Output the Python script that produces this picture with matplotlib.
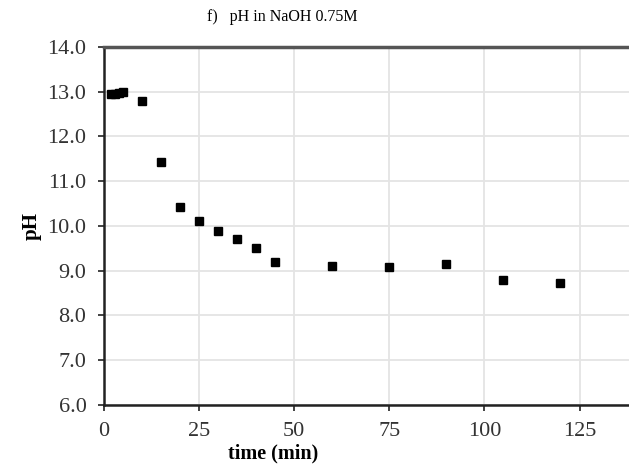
import matplotlib
matplotlib.use("Agg")
import matplotlib.pyplot as plt

time_min = [2, 3, 4, 5, 10, 15, 20, 25, 30, 35, 40, 45, 60, 75, 90, 105, 120]
ph = [12.95, 12.95, 12.96, 12.99, 12.8, 11.42, 10.42, 10.1, 9.88, 9.7, 9.5, 9.2, 9.1, 9.08, 9.15, 8.78, 8.72]
xticks = [0, 25, 50, 75, 100, 125]
yticks = [6.0, 7.0, 8.0, 9.0, 10.0, 11.0, 12.0, 13.0, 14.0]

plt.rcParams['font.family'] = ['Liberation Serif', 'DejaVu Serif']

fig = plt.figure(figsize=(6.29, 4.68), dpi=100)
ax = fig.add_axes([0.165, 0.135, 0.835, 0.765])

ax.plot(time_min, ph, linestyle='none', marker='s', color='black', markersize=6)

ax.set_xlim(0, 138)
ax.set_ylim(6.0, 14.0)
ax.set_xticks(xticks)
ax.set_yticks(yticks)
ax.set_yticklabels([f"{v:.1f}" for v in yticks])
ax.grid(True, color='#e4e4e4', linewidth=1.3)
ax.set_axisbelow(True)

for s in ['left', 'bottom']:
    ax.spines[s].set_color('#222222')
    ax.spines[s].set_linewidth(1.8)
ax.spines['top'].set_color('#555555')
ax.spines['top'].set_linewidth(2.5)
ax.spines['right'].set_visible(False)

ax.tick_params(axis='both', labelsize=16, direction='out', length=4.5, width=1.2,
               colors='#222222', pad=8)
ax.tick_params(axis='both', labelcolor='#333333')

ax.set_xlabel('time (min)', fontsize=14.5, fontweight='bold')
ax.xaxis.set_label_coords((273 - 104) / (629 - 104), -(444 - 405) / (405 - 47))
ax.set_ylabel('pH', fontsize=15, fontweight='bold')
ax.yaxis.set_label_coords(-(104 - 42) / (629 - 104), 0.5)
fig.text(282 / 629, 1 - 17 / 468, 'f)   pH in NaOH 0.75M', fontsize=11.5,
         ha='center', va='center')

fig.savefig('out.png', dpi=100)
